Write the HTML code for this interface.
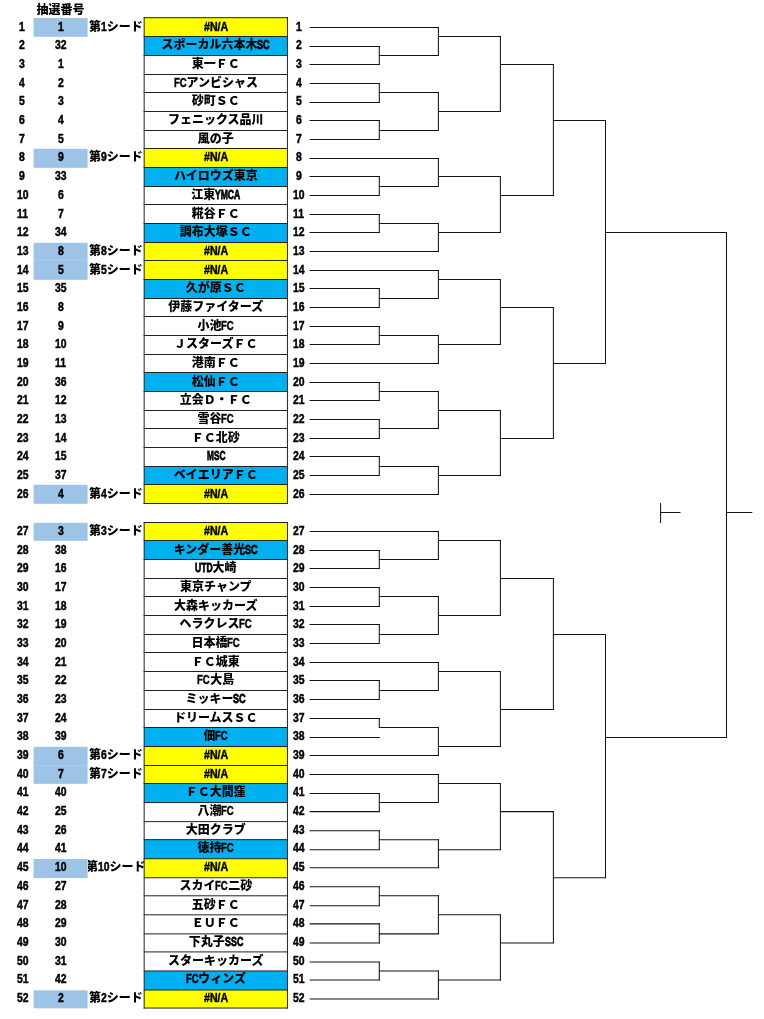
<!DOCTYPE html>
<html lang="ja"><head><meta charset="utf-8"><title>トーナメント表</title>
<style>
html,body{margin:0;padding:0;background:#fff}
body{width:764px;height:1019px;position:relative;overflow:hidden;font-family:"Liberation Sans","Noto Sans CJK JP",sans-serif;font-weight:900;font-size:12px;color:#000}
.c{position:absolute;height:18.67px;line-height:18.67px;text-align:center;white-space:nowrap;overflow:hidden}
.a{left:7.300000000000001px;width:30px}
.b{left:33.6px;width:54.0px}
.s{left:87.6px;width:56.4px}
.s>span.w{position:absolute;left:-30px;right:-30px;top:0;text-align:center}
.t{left:144.17px;width:143.3px}
.n{left:286.8px;width:24px}
.o{display:inline-block;white-space:nowrap;text-align:left;font-size:13px}
.i{display:inline-block;transform-origin:0 50%;white-space:nowrap;-webkit-text-stroke:0.5px #000}
.l{transform:scaleX(0.73)}
.d{transform:scaleX(0.8)}
.q{transform:scaleX(0.81)}
</style></head><body>
<svg width="764" height="1019" viewBox="0 0 764 1019" style="position:absolute;left:0;top:0">
<rect x="33.6" y="18.00" width="54.0" height="18.80" fill="#9dc3e6"/>
<rect x="33.6" y="148.80" width="54.0" height="19.00" fill="#9dc3e6"/>
<rect x="33.6" y="242.80" width="54.0" height="18.00" fill="#9dc3e6"/>
<rect x="33.6" y="260.80" width="54.0" height="19.00" fill="#9dc3e6"/>
<rect x="33.6" y="484.80" width="54.0" height="19.00" fill="#9dc3e6"/>
<rect x="33.6" y="522.80" width="54.0" height="18.00" fill="#9dc3e6"/>
<rect x="33.6" y="746.80" width="54.0" height="19.00" fill="#9dc3e6"/>
<rect x="33.6" y="765.80" width="54.0" height="18.04" fill="#9dc3e6"/>
<rect x="33.6" y="859.01" width="54.0" height="19.04" fill="#9dc3e6"/>
<rect x="33.6" y="990.31" width="54.0" height="18.04" fill="#9dc3e6"/>
<!--CELLS-->
<rect x="144.17" y="17.70" width="143.28" height="18.80" fill="#ffff00"/>
<rect x="144.17" y="36.50" width="143.28" height="19.00" fill="#00b0f0"/>
<rect x="144.17" y="148.50" width="143.28" height="19.00" fill="#ffff00"/>
<rect x="144.17" y="167.50" width="143.28" height="19.00" fill="#00b0f0"/>
<rect x="144.17" y="223.50" width="143.28" height="19.00" fill="#00b0f0"/>
<rect x="144.17" y="242.50" width="143.28" height="18.00" fill="#ffff00"/>
<rect x="144.17" y="260.50" width="143.28" height="19.00" fill="#ffff00"/>
<rect x="144.17" y="279.50" width="143.28" height="19.00" fill="#00b0f0"/>
<rect x="144.17" y="372.50" width="143.28" height="19.00" fill="#00b0f0"/>
<rect x="144.17" y="466.50" width="143.28" height="18.00" fill="#00b0f0"/>
<rect x="144.17" y="484.50" width="143.28" height="19.00" fill="#ffff00"/>
<rect x="144.17" y="522.50" width="143.28" height="18.00" fill="#ffff00"/>
<rect x="144.17" y="540.50" width="143.28" height="19.00" fill="#00b0f0"/>
<rect x="144.17" y="727.50" width="143.28" height="19.00" fill="#00b0f0"/>
<rect x="144.17" y="746.50" width="143.28" height="19.00" fill="#ffff00"/>
<rect x="144.17" y="765.50" width="143.28" height="18.04" fill="#ffff00"/>
<rect x="144.17" y="783.54" width="143.28" height="19.04" fill="#00b0f0"/>
<rect x="144.17" y="839.67" width="143.28" height="19.04" fill="#00b0f0"/>
<rect x="144.17" y="858.71" width="143.28" height="19.04" fill="#ffff00"/>
<rect x="144.17" y="970.97" width="143.28" height="19.04" fill="#00b0f0"/>
<rect x="144.17" y="990.01" width="143.28" height="18.04" fill="#ffff00"/>
<g stroke="#222" stroke-width="1" fill="none">
<line x1="143.67" x2="287.95" y1="17.70" y2="17.70"/>
<line x1="143.67" x2="287.95" y1="36.50" y2="36.50"/>
<line x1="143.67" x2="287.95" y1="55.50" y2="55.50"/>
<line x1="143.67" x2="287.95" y1="74.50" y2="74.50"/>
<line x1="143.67" x2="287.95" y1="92.50" y2="92.50"/>
<line x1="143.67" x2="287.95" y1="111.50" y2="111.50"/>
<line x1="143.67" x2="287.95" y1="130.50" y2="130.50"/>
<line x1="143.67" x2="287.95" y1="148.50" y2="148.50"/>
<line x1="143.67" x2="287.95" y1="167.50" y2="167.50"/>
<line x1="143.67" x2="287.95" y1="186.50" y2="186.50"/>
<line x1="143.67" x2="287.95" y1="204.50" y2="204.50"/>
<line x1="143.67" x2="287.95" y1="223.50" y2="223.50"/>
<line x1="143.67" x2="287.95" y1="242.50" y2="242.50"/>
<line x1="143.67" x2="287.95" y1="260.50" y2="260.50"/>
<line x1="143.67" x2="287.95" y1="279.50" y2="279.50"/>
<line x1="143.67" x2="287.95" y1="298.50" y2="298.50"/>
<line x1="143.67" x2="287.95" y1="316.50" y2="316.50"/>
<line x1="143.67" x2="287.95" y1="335.50" y2="335.50"/>
<line x1="143.67" x2="287.95" y1="354.50" y2="354.50"/>
<line x1="143.67" x2="287.95" y1="372.50" y2="372.50"/>
<line x1="143.67" x2="287.95" y1="391.50" y2="391.50"/>
<line x1="143.67" x2="287.95" y1="410.50" y2="410.50"/>
<line x1="143.67" x2="287.95" y1="428.50" y2="428.50"/>
<line x1="143.67" x2="287.95" y1="447.50" y2="447.50"/>
<line x1="143.67" x2="287.95" y1="466.50" y2="466.50"/>
<line x1="143.67" x2="287.95" y1="484.50" y2="484.50"/>
<line x1="143.67" x2="287.95" y1="503.50" y2="503.50"/>
<line x1="144.17" x2="144.17" y1="17.20" y2="504.00"/>
<line x1="287.45" x2="287.45" y1="17.20" y2="504.00"/>
<line x1="143.67" x2="287.95" y1="522.50" y2="522.50"/>
<line x1="143.67" x2="287.95" y1="540.50" y2="540.50"/>
<line x1="143.67" x2="287.95" y1="559.50" y2="559.50"/>
<line x1="143.67" x2="287.95" y1="578.50" y2="578.50"/>
<line x1="143.67" x2="287.95" y1="596.50" y2="596.50"/>
<line x1="143.67" x2="287.95" y1="615.50" y2="615.50"/>
<line x1="143.67" x2="287.95" y1="634.50" y2="634.50"/>
<line x1="143.67" x2="287.95" y1="652.50" y2="652.50"/>
<line x1="143.67" x2="287.95" y1="671.50" y2="671.50"/>
<line x1="143.67" x2="287.95" y1="690.50" y2="690.50"/>
<line x1="143.67" x2="287.95" y1="709.50" y2="709.50"/>
<line x1="143.67" x2="287.95" y1="727.50" y2="727.50"/>
<line x1="143.67" x2="287.95" y1="746.50" y2="746.50"/>
<line x1="143.67" x2="287.95" y1="765.50" y2="765.50"/>
<line x1="143.67" x2="287.95" y1="783.54" y2="783.54"/>
<line x1="143.67" x2="287.95" y1="802.58" y2="802.58"/>
<line x1="143.67" x2="287.95" y1="821.63" y2="821.63"/>
<line x1="143.67" x2="287.95" y1="839.67" y2="839.67"/>
<line x1="143.67" x2="287.95" y1="858.71" y2="858.71"/>
<line x1="143.67" x2="287.95" y1="877.75" y2="877.75"/>
<line x1="143.67" x2="287.95" y1="895.80" y2="895.80"/>
<line x1="143.67" x2="287.95" y1="914.84" y2="914.84"/>
<line x1="143.67" x2="287.95" y1="933.88" y2="933.88"/>
<line x1="143.67" x2="287.95" y1="951.92" y2="951.92"/>
<line x1="143.67" x2="287.95" y1="970.97" y2="970.97"/>
<line x1="143.67" x2="287.95" y1="990.01" y2="990.01"/>
<line x1="143.67" x2="287.95" y1="1008.05" y2="1008.05"/>
<line x1="144.17" x2="144.17" y1="522.00" y2="1008.55"/>
<line x1="287.45" x2="287.45" y1="522.00" y2="1008.55"/>
</g>
<g stroke="#141414" stroke-width="1.05" fill="none">
<line x1="309.6" x2="438.9" y1="27.50" y2="27.50"/>
<line x1="309.6" x2="379.8" y1="46.50" y2="46.50"/>
<line x1="309.6" x2="379.8" y1="64.50" y2="64.50"/>
<line x1="378.8" x2="438.9" y1="55.50" y2="55.50"/>
<line x1="437.9" x2="500.9" y1="36.50" y2="36.50"/>
<line x1="309.6" x2="379.8" y1="83.50" y2="83.50"/>
<line x1="309.6" x2="379.8" y1="102.50" y2="102.50"/>
<line x1="378.8" x2="438.9" y1="92.50" y2="92.50"/>
<line x1="309.6" x2="379.8" y1="120.50" y2="120.50"/>
<line x1="309.6" x2="379.8" y1="139.50" y2="139.50"/>
<line x1="378.8" x2="438.9" y1="130.50" y2="130.50"/>
<line x1="437.9" x2="500.9" y1="111.50" y2="111.50"/>
<line x1="499.9" x2="553.9" y1="64.50" y2="64.50"/>
<line x1="309.6" x2="438.9" y1="158.50" y2="158.50"/>
<line x1="309.6" x2="379.8" y1="176.50" y2="176.50"/>
<line x1="309.6" x2="379.8" y1="195.50" y2="195.50"/>
<line x1="378.8" x2="438.9" y1="186.50" y2="186.50"/>
<line x1="437.9" x2="500.9" y1="176.50" y2="176.50"/>
<line x1="309.6" x2="379.8" y1="214.50" y2="214.50"/>
<line x1="309.6" x2="379.8" y1="232.50" y2="232.50"/>
<line x1="378.8" x2="438.9" y1="223.50" y2="223.50"/>
<line x1="309.6" x2="438.9" y1="251.50" y2="251.50"/>
<line x1="437.9" x2="500.9" y1="232.50" y2="232.50"/>
<line x1="499.9" x2="553.9" y1="195.50" y2="195.50"/>
<line x1="552.9" x2="606.0" y1="120.50" y2="120.50"/>
<line x1="309.6" x2="438.9" y1="270.50" y2="270.50"/>
<line x1="309.6" x2="379.8" y1="288.50" y2="288.50"/>
<line x1="309.6" x2="379.8" y1="307.50" y2="307.50"/>
<line x1="378.8" x2="438.9" y1="298.50" y2="298.50"/>
<line x1="437.9" x2="500.9" y1="279.50" y2="279.50"/>
<line x1="309.6" x2="379.8" y1="326.50" y2="326.50"/>
<line x1="309.6" x2="379.8" y1="344.50" y2="344.50"/>
<line x1="378.8" x2="438.9" y1="335.50" y2="335.50"/>
<line x1="309.6" x2="438.9" y1="363.50" y2="363.50"/>
<line x1="437.9" x2="500.9" y1="344.50" y2="344.50"/>
<line x1="499.9" x2="553.9" y1="307.50" y2="307.50"/>
<line x1="309.6" x2="379.8" y1="382.50" y2="382.50"/>
<line x1="309.6" x2="379.8" y1="400.50" y2="400.50"/>
<line x1="378.8" x2="438.9" y1="391.50" y2="391.50"/>
<line x1="309.6" x2="379.8" y1="419.50" y2="419.50"/>
<line x1="309.6" x2="379.8" y1="438.50" y2="438.50"/>
<line x1="378.8" x2="438.9" y1="428.50" y2="428.50"/>
<line x1="437.9" x2="500.9" y1="410.50" y2="410.50"/>
<line x1="309.6" x2="379.8" y1="456.50" y2="456.50"/>
<line x1="309.6" x2="379.8" y1="475.50" y2="475.50"/>
<line x1="378.8" x2="438.9" y1="466.50" y2="466.50"/>
<line x1="309.6" x2="438.9" y1="494.50" y2="494.50"/>
<line x1="437.9" x2="500.9" y1="475.50" y2="475.50"/>
<line x1="499.9" x2="553.9" y1="438.50" y2="438.50"/>
<line x1="552.9" x2="606.0" y1="363.50" y2="363.50"/>
<line x1="605.0" x2="727.0" y1="232.50" y2="232.50"/>
<line x1="309.6" x2="438.9" y1="531.50" y2="531.50"/>
<line x1="309.6" x2="379.8" y1="550.50" y2="550.50"/>
<line x1="309.6" x2="379.8" y1="568.50" y2="568.50"/>
<line x1="378.8" x2="438.9" y1="559.50" y2="559.50"/>
<line x1="437.9" x2="500.9" y1="540.50" y2="540.50"/>
<line x1="309.6" x2="379.8" y1="587.50" y2="587.50"/>
<line x1="309.6" x2="379.8" y1="606.50" y2="606.50"/>
<line x1="378.8" x2="438.9" y1="596.50" y2="596.50"/>
<line x1="309.6" x2="379.8" y1="624.50" y2="624.50"/>
<line x1="309.6" x2="379.8" y1="643.50" y2="643.50"/>
<line x1="378.8" x2="438.9" y1="634.50" y2="634.50"/>
<line x1="437.9" x2="500.9" y1="615.50" y2="615.50"/>
<line x1="499.9" x2="553.9" y1="578.50" y2="578.50"/>
<line x1="309.6" x2="438.9" y1="662.50" y2="662.50"/>
<line x1="309.6" x2="379.8" y1="680.50" y2="680.50"/>
<line x1="309.6" x2="379.8" y1="699.50" y2="699.50"/>
<line x1="378.8" x2="438.9" y1="690.50" y2="690.50"/>
<line x1="437.9" x2="500.9" y1="671.50" y2="671.50"/>
<line x1="309.6" x2="379.8" y1="718.50" y2="718.50"/>
<line x1="309.6" x2="379.8" y1="737.50" y2="737.50"/>
<line x1="378.8" x2="438.9" y1="727.50" y2="727.50"/>
<line x1="309.6" x2="438.9" y1="755.50" y2="755.50"/>
<line x1="437.9" x2="500.9" y1="746.50" y2="746.50"/>
<line x1="499.9" x2="553.9" y1="709.50" y2="709.50"/>
<line x1="552.9" x2="606.0" y1="634.50" y2="634.50"/>
<line x1="309.6" x2="438.9" y1="774.52" y2="774.52"/>
<line x1="309.6" x2="379.8" y1="793.56" y2="793.56"/>
<line x1="309.6" x2="379.8" y1="811.61" y2="811.61"/>
<line x1="378.8" x2="438.9" y1="802.58" y2="802.58"/>
<line x1="437.9" x2="500.9" y1="783.54" y2="783.54"/>
<line x1="309.6" x2="379.8" y1="830.65" y2="830.65"/>
<line x1="309.6" x2="379.8" y1="849.69" y2="849.69"/>
<line x1="378.8" x2="438.9" y1="839.67" y2="839.67"/>
<line x1="309.6" x2="438.9" y1="867.73" y2="867.73"/>
<line x1="437.9" x2="500.9" y1="849.69" y2="849.69"/>
<line x1="499.9" x2="553.9" y1="811.61" y2="811.61"/>
<line x1="309.6" x2="379.8" y1="886.77" y2="886.77"/>
<line x1="309.6" x2="379.8" y1="905.82" y2="905.82"/>
<line x1="378.8" x2="438.9" y1="895.80" y2="895.80"/>
<line x1="309.6" x2="379.8" y1="923.86" y2="923.86"/>
<line x1="309.6" x2="379.8" y1="942.90" y2="942.90"/>
<line x1="378.8" x2="438.9" y1="933.88" y2="933.88"/>
<line x1="437.9" x2="500.9" y1="914.84" y2="914.84"/>
<line x1="309.6" x2="379.8" y1="961.94" y2="961.94"/>
<line x1="309.6" x2="379.8" y1="979.99" y2="979.99"/>
<line x1="378.8" x2="438.9" y1="970.97" y2="970.97"/>
<line x1="309.6" x2="438.9" y1="999.03" y2="999.03"/>
<line x1="437.9" x2="500.9" y1="979.99" y2="979.99"/>
<line x1="499.9" x2="553.9" y1="942.90" y2="942.90"/>
<line x1="552.9" x2="606.0" y1="877.75" y2="877.75"/>
<line x1="605.0" x2="727.0" y1="737.50" y2="737.50"/>
<line x1="726.0" x2="752.3" y1="512.50" y2="512.50"/>
<line x1="660.1" x2="680.5" y1="512.50" y2="512.50"/>
<line x1="379.3" x2="379.3" y1="46.00" y2="64.90"/>
<line x1="438.4" x2="438.4" y1="27.00" y2="55.90"/>
<line x1="379.3" x2="379.3" y1="83.00" y2="102.90"/>
<line x1="379.3" x2="379.3" y1="120.00" y2="139.90"/>
<line x1="438.4" x2="438.4" y1="92.00" y2="130.90"/>
<line x1="500.4" x2="500.4" y1="36.00" y2="111.90"/>
<line x1="379.3" x2="379.3" y1="176.00" y2="195.90"/>
<line x1="438.4" x2="438.4" y1="158.00" y2="186.90"/>
<line x1="379.3" x2="379.3" y1="214.00" y2="232.90"/>
<line x1="438.4" x2="438.4" y1="223.00" y2="251.90"/>
<line x1="500.4" x2="500.4" y1="176.00" y2="232.90"/>
<line x1="553.4" x2="553.4" y1="64.00" y2="195.90"/>
<line x1="379.3" x2="379.3" y1="288.00" y2="307.90"/>
<line x1="438.4" x2="438.4" y1="270.00" y2="298.90"/>
<line x1="379.3" x2="379.3" y1="326.00" y2="344.90"/>
<line x1="438.4" x2="438.4" y1="335.00" y2="363.90"/>
<line x1="500.4" x2="500.4" y1="279.00" y2="344.90"/>
<line x1="379.3" x2="379.3" y1="382.00" y2="400.90"/>
<line x1="379.3" x2="379.3" y1="419.00" y2="438.90"/>
<line x1="438.4" x2="438.4" y1="391.00" y2="428.90"/>
<line x1="379.3" x2="379.3" y1="456.00" y2="475.90"/>
<line x1="438.4" x2="438.4" y1="466.00" y2="494.90"/>
<line x1="500.4" x2="500.4" y1="410.00" y2="475.90"/>
<line x1="553.4" x2="553.4" y1="307.00" y2="438.90"/>
<line x1="605.5" x2="605.5" y1="120.00" y2="363.90"/>
<line x1="379.3" x2="379.3" y1="550.00" y2="568.90"/>
<line x1="438.4" x2="438.4" y1="531.00" y2="559.90"/>
<line x1="379.3" x2="379.3" y1="587.00" y2="606.90"/>
<line x1="379.3" x2="379.3" y1="624.00" y2="643.90"/>
<line x1="438.4" x2="438.4" y1="596.00" y2="634.90"/>
<line x1="500.4" x2="500.4" y1="540.00" y2="615.90"/>
<line x1="379.3" x2="379.3" y1="680.00" y2="699.90"/>
<line x1="438.4" x2="438.4" y1="662.00" y2="690.90"/>
<line x1="379.3" x2="379.3" y1="718.00" y2="727.90"/>
<line x1="438.4" x2="438.4" y1="727.00" y2="755.90"/>
<line x1="500.4" x2="500.4" y1="671.00" y2="746.90"/>
<line x1="553.4" x2="553.4" y1="578.00" y2="709.90"/>
<line x1="379.3" x2="379.3" y1="793.06" y2="812.01"/>
<line x1="438.4" x2="438.4" y1="774.02" y2="802.98"/>
<line x1="379.3" x2="379.3" y1="830.15" y2="850.09"/>
<line x1="438.4" x2="438.4" y1="839.17" y2="868.13"/>
<line x1="500.4" x2="500.4" y1="783.04" y2="850.09"/>
<line x1="379.3" x2="379.3" y1="886.27" y2="906.22"/>
<line x1="379.3" x2="379.3" y1="923.36" y2="943.30"/>
<line x1="438.4" x2="438.4" y1="895.30" y2="934.28"/>
<line x1="379.3" x2="379.3" y1="961.44" y2="980.39"/>
<line x1="438.4" x2="438.4" y1="970.47" y2="999.43"/>
<line x1="500.4" x2="500.4" y1="914.34" y2="980.39"/>
<line x1="553.4" x2="553.4" y1="811.11" y2="943.30"/>
<line x1="605.5" x2="605.5" y1="634.00" y2="878.15"/>
<line x1="726.5" x2="726.5" y1="232.00" y2="737.90"/>
<line x1="660.6" x2="660.6" y1="503.00" y2="522.90"/>
</g>
</svg>
<div class="c b" style="top:1.47px">抽選番号</div>
<div class="c a" style="top:17.75px"><span class="o" style="width:5.79px"><span class="i d">1</span></span></div><div class="c b" style="top:17.75px"><span class="o" style="width:5.79px"><span class="i d">1</span></span></div><div class="c s" style="top:17.75px"><span class="w">第<span class="o" style="width:5.79px"><span class="i d">1</span></span>シード</span></div><div class="c t" style="top:17.75px"><span class="o" style="width:24.20px"><span class="i" style="transform:scaleX(0.817)">#N/A</span></span></div><div class="c n" style="top:17.75px"><span class="o" style="width:5.79px"><span class="i d">1</span></span></div>
<div class="c a" style="top:36.43px"><span class="o" style="width:5.79px"><span class="i d">2</span></span></div><div class="c b" style="top:36.43px"><span class="o" style="width:11.58px"><span class="i d">32</span></span></div><div class="c t" style="top:36.43px">スポーカル六本木<span class="o" style="width:12.70px"><span class="i" style="transform:scaleX(0.703);-webkit-text-stroke-width:0.8px">SC</span></span></div><div class="c n" style="top:36.43px"><span class="o" style="width:5.79px"><span class="i d">2</span></span></div>
<div class="c a" style="top:55.10px"><span class="o" style="width:5.79px"><span class="i d">3</span></span></div><div class="c b" style="top:55.10px"><span class="o" style="width:5.79px"><span class="i d">1</span></span></div><div class="c t" style="top:55.10px">東一ＦＣ</div><div class="c n" style="top:55.10px"><span class="o" style="width:5.79px"><span class="i d">3</span></span></div>
<div class="c a" style="top:73.78px"><span class="o" style="width:5.79px"><span class="i d">4</span></span></div><div class="c b" style="top:73.78px"><span class="o" style="width:5.79px"><span class="i d">2</span></span></div><div class="c t" style="top:73.78px"><span class="o" style="width:12.70px"><span class="i" style="transform:scaleX(0.732)">FC</span></span>アンビシャス</div><div class="c n" style="top:73.78px"><span class="o" style="width:5.79px"><span class="i d">4</span></span></div>
<div class="c a" style="top:92.45px"><span class="o" style="width:5.79px"><span class="i d">5</span></span></div><div class="c b" style="top:92.45px"><span class="o" style="width:5.79px"><span class="i d">3</span></span></div><div class="c t" style="top:92.45px">砂町ＳＣ</div><div class="c n" style="top:92.45px"><span class="o" style="width:5.79px"><span class="i d">5</span></span></div>
<div class="c a" style="top:111.13px"><span class="o" style="width:5.79px"><span class="i d">6</span></span></div><div class="c b" style="top:111.13px"><span class="o" style="width:5.79px"><span class="i d">4</span></span></div><div class="c t" style="top:111.13px">フェニックス品川</div><div class="c n" style="top:111.13px"><span class="o" style="width:5.79px"><span class="i d">6</span></span></div>
<div class="c a" style="top:129.81px"><span class="o" style="width:5.79px"><span class="i d">7</span></span></div><div class="c b" style="top:129.81px"><span class="o" style="width:5.79px"><span class="i d">5</span></span></div><div class="c t" style="top:129.81px">風の子</div><div class="c n" style="top:129.81px"><span class="o" style="width:5.79px"><span class="i d">7</span></span></div>
<div class="c a" style="top:148.48px"><span class="o" style="width:5.79px"><span class="i d">8</span></span></div><div class="c b" style="top:148.48px"><span class="o" style="width:5.79px"><span class="i d">9</span></span></div><div class="c s" style="top:148.48px"><span class="w">第<span class="o" style="width:5.79px"><span class="i d">9</span></span>シード</span></div><div class="c t" style="top:148.48px"><span class="o" style="width:24.20px"><span class="i" style="transform:scaleX(0.817)">#N/A</span></span></div><div class="c n" style="top:148.48px"><span class="o" style="width:5.79px"><span class="i d">8</span></span></div>
<div class="c a" style="top:167.16px"><span class="o" style="width:5.79px"><span class="i d">9</span></span></div><div class="c b" style="top:167.16px"><span class="o" style="width:11.58px"><span class="i d">33</span></span></div><div class="c t" style="top:167.16px">ハイロウズ東京</div><div class="c n" style="top:167.16px"><span class="o" style="width:5.79px"><span class="i d">9</span></span></div>
<div class="c a" style="top:185.83px"><span class="o" style="width:11.58px"><span class="i d">10</span></span></div><div class="c b" style="top:185.83px"><span class="o" style="width:5.79px"><span class="i d">6</span></span></div><div class="c t" style="top:185.83px">江東<span class="o" style="width:25.20px"><span class="i" style="transform:scaleX(0.658);-webkit-text-stroke-width:0.8px">YMCA</span></span></div><div class="c n" style="top:185.83px"><span class="o" style="width:11.58px"><span class="i d">10</span></span></div>
<div class="c a" style="top:204.51px"><span class="o" style="width:11.00px"><span class="i d">11</span></span></div><div class="c b" style="top:204.51px"><span class="o" style="width:5.79px"><span class="i d">7</span></span></div><div class="c t" style="top:204.51px">糀谷ＦＣ</div><div class="c n" style="top:204.51px"><span class="o" style="width:11.00px"><span class="i d">11</span></span></div>
<div class="c a" style="top:223.19px"><span class="o" style="width:11.58px"><span class="i d">12</span></span></div><div class="c b" style="top:223.19px"><span class="o" style="width:11.58px"><span class="i d">34</span></span></div><div class="c t" style="top:223.19px">調布大塚ＳＣ</div><div class="c n" style="top:223.19px"><span class="o" style="width:11.58px"><span class="i d">12</span></span></div>
<div class="c a" style="top:241.86px"><span class="o" style="width:11.58px"><span class="i d">13</span></span></div><div class="c b" style="top:241.86px"><span class="o" style="width:5.79px"><span class="i d">8</span></span></div><div class="c s" style="top:241.86px"><span class="w">第<span class="o" style="width:5.79px"><span class="i d">8</span></span>シード</span></div><div class="c t" style="top:241.86px"><span class="o" style="width:24.20px"><span class="i" style="transform:scaleX(0.817)">#N/A</span></span></div><div class="c n" style="top:241.86px"><span class="o" style="width:11.58px"><span class="i d">13</span></span></div>
<div class="c a" style="top:260.54px"><span class="o" style="width:11.58px"><span class="i d">14</span></span></div><div class="c b" style="top:260.54px"><span class="o" style="width:5.79px"><span class="i d">5</span></span></div><div class="c s" style="top:260.54px"><span class="w">第<span class="o" style="width:5.79px"><span class="i d">5</span></span>シード</span></div><div class="c t" style="top:260.54px"><span class="o" style="width:24.20px"><span class="i" style="transform:scaleX(0.817)">#N/A</span></span></div><div class="c n" style="top:260.54px"><span class="o" style="width:11.58px"><span class="i d">14</span></span></div>
<div class="c a" style="top:279.21px"><span class="o" style="width:11.58px"><span class="i d">15</span></span></div><div class="c b" style="top:279.21px"><span class="o" style="width:11.58px"><span class="i d">35</span></span></div><div class="c t" style="top:279.21px">久が原ＳＣ</div><div class="c n" style="top:279.21px"><span class="o" style="width:11.58px"><span class="i d">15</span></span></div>
<div class="c a" style="top:297.89px"><span class="o" style="width:11.58px"><span class="i d">16</span></span></div><div class="c b" style="top:297.89px"><span class="o" style="width:5.79px"><span class="i d">8</span></span></div><div class="c t" style="top:297.89px">伊藤ファイターズ</div><div class="c n" style="top:297.89px"><span class="o" style="width:11.58px"><span class="i d">16</span></span></div>
<div class="c a" style="top:316.57px"><span class="o" style="width:11.58px"><span class="i d">17</span></span></div><div class="c b" style="top:316.57px"><span class="o" style="width:5.79px"><span class="i d">9</span></span></div><div class="c t" style="top:316.57px">小池<span class="o" style="width:12.70px"><span class="i" style="transform:scaleX(0.732)">FC</span></span></div><div class="c n" style="top:316.57px"><span class="o" style="width:11.58px"><span class="i d">17</span></span></div>
<div class="c a" style="top:335.24px"><span class="o" style="width:11.58px"><span class="i d">18</span></span></div><div class="c b" style="top:335.24px"><span class="o" style="width:11.58px"><span class="i d">10</span></span></div><div class="c t" style="top:335.24px">ＪスターズＦＣ</div><div class="c n" style="top:335.24px"><span class="o" style="width:11.58px"><span class="i d">18</span></span></div>
<div class="c a" style="top:353.92px"><span class="o" style="width:11.58px"><span class="i d">19</span></span></div><div class="c b" style="top:353.92px"><span class="o" style="width:11.00px"><span class="i d">11</span></span></div><div class="c t" style="top:353.92px">港南ＦＣ</div><div class="c n" style="top:353.92px"><span class="o" style="width:11.58px"><span class="i d">19</span></span></div>
<div class="c a" style="top:372.59px"><span class="o" style="width:11.58px"><span class="i d">20</span></span></div><div class="c b" style="top:372.59px"><span class="o" style="width:11.58px"><span class="i d">36</span></span></div><div class="c t" style="top:372.59px">松仙ＦＣ</div><div class="c n" style="top:372.59px"><span class="o" style="width:11.58px"><span class="i d">20</span></span></div>
<div class="c a" style="top:391.27px"><span class="o" style="width:11.58px"><span class="i d">21</span></span></div><div class="c b" style="top:391.27px"><span class="o" style="width:11.58px"><span class="i d">12</span></span></div><div class="c t" style="top:391.27px">立会Ｄ・ＦＣ</div><div class="c n" style="top:391.27px"><span class="o" style="width:11.58px"><span class="i d">21</span></span></div>
<div class="c a" style="top:409.95px"><span class="o" style="width:11.58px"><span class="i d">22</span></span></div><div class="c b" style="top:409.95px"><span class="o" style="width:11.58px"><span class="i d">13</span></span></div><div class="c t" style="top:409.95px">雪谷<span class="o" style="width:12.70px"><span class="i" style="transform:scaleX(0.732)">FC</span></span></div><div class="c n" style="top:409.95px"><span class="o" style="width:11.58px"><span class="i d">22</span></span></div>
<div class="c a" style="top:428.62px"><span class="o" style="width:11.58px"><span class="i d">23</span></span></div><div class="c b" style="top:428.62px"><span class="o" style="width:11.58px"><span class="i d">14</span></span></div><div class="c t" style="top:428.62px">ＦＣ北砂</div><div class="c n" style="top:428.62px"><span class="o" style="width:11.58px"><span class="i d">23</span></span></div>
<div class="c a" style="top:447.30px"><span class="o" style="width:11.58px"><span class="i d">24</span></span></div><div class="c b" style="top:447.30px"><span class="o" style="width:11.58px"><span class="i d">15</span></span></div><div class="c t" style="top:447.30px"><span class="o" style="width:18.40px"><span class="i" style="transform:scaleX(0.637);-webkit-text-stroke-width:0.8px">MSC</span></span></div><div class="c n" style="top:447.30px"><span class="o" style="width:11.58px"><span class="i d">24</span></span></div>
<div class="c a" style="top:465.97px"><span class="o" style="width:11.58px"><span class="i d">25</span></span></div><div class="c b" style="top:465.97px"><span class="o" style="width:11.58px"><span class="i d">37</span></span></div><div class="c t" style="top:465.97px">ベイエリアＦＣ</div><div class="c n" style="top:465.97px"><span class="o" style="width:11.58px"><span class="i d">25</span></span></div>
<div class="c a" style="top:484.65px"><span class="o" style="width:11.58px"><span class="i d">26</span></span></div><div class="c b" style="top:484.65px"><span class="o" style="width:5.79px"><span class="i d">4</span></span></div><div class="c s" style="top:484.65px"><span class="w">第<span class="o" style="width:5.79px"><span class="i d">4</span></span>シード</span></div><div class="c t" style="top:484.65px"><span class="o" style="width:24.20px"><span class="i" style="transform:scaleX(0.817)">#N/A</span></span></div><div class="c n" style="top:484.65px"><span class="o" style="width:11.58px"><span class="i d">26</span></span></div>
<div class="c a" style="top:522.00px"><span class="o" style="width:11.58px"><span class="i d">27</span></span></div><div class="c b" style="top:522.00px"><span class="o" style="width:5.79px"><span class="i d">3</span></span></div><div class="c s" style="top:522.00px"><span class="w">第<span class="o" style="width:5.79px"><span class="i d">3</span></span>シード</span></div><div class="c t" style="top:522.00px"><span class="o" style="width:24.20px"><span class="i" style="transform:scaleX(0.817)">#N/A</span></span></div><div class="c n" style="top:522.00px"><span class="o" style="width:11.58px"><span class="i d">27</span></span></div>
<div class="c a" style="top:540.68px"><span class="o" style="width:11.58px"><span class="i d">28</span></span></div><div class="c b" style="top:540.68px"><span class="o" style="width:11.58px"><span class="i d">38</span></span></div><div class="c t" style="top:540.68px">キンダー善光<span class="o" style="width:12.70px"><span class="i" style="transform:scaleX(0.703);-webkit-text-stroke-width:0.8px">SC</span></span></div><div class="c n" style="top:540.68px"><span class="o" style="width:11.58px"><span class="i d">28</span></span></div>
<div class="c a" style="top:559.35px"><span class="o" style="width:11.58px"><span class="i d">29</span></span></div><div class="c b" style="top:559.35px"><span class="o" style="width:11.58px"><span class="i d">16</span></span></div><div class="c t" style="top:559.35px"><span class="o" style="width:17.60px"><span class="i" style="transform:scaleX(0.659);-webkit-text-stroke-width:0.8px">UTD</span></span>大崎</div><div class="c n" style="top:559.35px"><span class="o" style="width:11.58px"><span class="i d">29</span></span></div>
<div class="c a" style="top:578.03px"><span class="o" style="width:11.58px"><span class="i d">30</span></span></div><div class="c b" style="top:578.03px"><span class="o" style="width:11.58px"><span class="i d">17</span></span></div><div class="c t" style="top:578.03px">東京チャンプ</div><div class="c n" style="top:578.03px"><span class="o" style="width:11.58px"><span class="i d">30</span></span></div>
<div class="c a" style="top:596.71px"><span class="o" style="width:11.58px"><span class="i d">31</span></span></div><div class="c b" style="top:596.71px"><span class="o" style="width:11.58px"><span class="i d">18</span></span></div><div class="c t" style="top:596.71px">大森キッカーズ</div><div class="c n" style="top:596.71px"><span class="o" style="width:11.58px"><span class="i d">31</span></span></div>
<div class="c a" style="top:615.38px"><span class="o" style="width:11.58px"><span class="i d">32</span></span></div><div class="c b" style="top:615.38px"><span class="o" style="width:11.58px"><span class="i d">19</span></span></div><div class="c t" style="top:615.38px">ヘラクレス<span class="o" style="width:12.70px"><span class="i" style="transform:scaleX(0.732)">FC</span></span></div><div class="c n" style="top:615.38px"><span class="o" style="width:11.58px"><span class="i d">32</span></span></div>
<div class="c a" style="top:634.06px"><span class="o" style="width:11.58px"><span class="i d">33</span></span></div><div class="c b" style="top:634.06px"><span class="o" style="width:11.58px"><span class="i d">20</span></span></div><div class="c t" style="top:634.06px">日本橋<span class="o" style="width:12.70px"><span class="i" style="transform:scaleX(0.732)">FC</span></span></div><div class="c n" style="top:634.06px"><span class="o" style="width:11.58px"><span class="i d">33</span></span></div>
<div class="c a" style="top:652.73px"><span class="o" style="width:11.58px"><span class="i d">34</span></span></div><div class="c b" style="top:652.73px"><span class="o" style="width:11.58px"><span class="i d">21</span></span></div><div class="c t" style="top:652.73px">ＦＣ城東</div><div class="c n" style="top:652.73px"><span class="o" style="width:11.58px"><span class="i d">34</span></span></div>
<div class="c a" style="top:671.41px"><span class="o" style="width:11.58px"><span class="i d">35</span></span></div><div class="c b" style="top:671.41px"><span class="o" style="width:11.58px"><span class="i d">22</span></span></div><div class="c t" style="top:671.41px"><span class="o" style="width:12.70px"><span class="i" style="transform:scaleX(0.732)">FC</span></span>大島</div><div class="c n" style="top:671.41px"><span class="o" style="width:11.58px"><span class="i d">35</span></span></div>
<div class="c a" style="top:690.09px"><span class="o" style="width:11.58px"><span class="i d">36</span></span></div><div class="c b" style="top:690.09px"><span class="o" style="width:11.58px"><span class="i d">23</span></span></div><div class="c t" style="top:690.09px">ミッキー<span class="o" style="width:12.70px"><span class="i" style="transform:scaleX(0.703);-webkit-text-stroke-width:0.8px">SC</span></span></div><div class="c n" style="top:690.09px"><span class="o" style="width:11.58px"><span class="i d">36</span></span></div>
<div class="c a" style="top:708.76px"><span class="o" style="width:11.58px"><span class="i d">37</span></span></div><div class="c b" style="top:708.76px"><span class="o" style="width:11.58px"><span class="i d">24</span></span></div><div class="c t" style="top:708.76px">ドリームスＳＣ</div><div class="c n" style="top:708.76px"><span class="o" style="width:11.58px"><span class="i d">37</span></span></div>
<div class="c a" style="top:727.44px"><span class="o" style="width:11.58px"><span class="i d">38</span></span></div><div class="c b" style="top:727.44px"><span class="o" style="width:11.58px"><span class="i d">39</span></span></div><div class="c t" style="top:727.44px">佃<span class="o" style="width:12.70px"><span class="i" style="transform:scaleX(0.732)">FC</span></span></div><div class="c n" style="top:727.44px"><span class="o" style="width:11.58px"><span class="i d">38</span></span></div>
<div class="c a" style="top:746.11px"><span class="o" style="width:11.58px"><span class="i d">39</span></span></div><div class="c b" style="top:746.11px"><span class="o" style="width:5.79px"><span class="i d">6</span></span></div><div class="c s" style="top:746.11px"><span class="w">第<span class="o" style="width:5.79px"><span class="i d">6</span></span>シード</span></div><div class="c t" style="top:746.11px"><span class="o" style="width:24.20px"><span class="i" style="transform:scaleX(0.817)">#N/A</span></span></div><div class="c n" style="top:746.11px"><span class="o" style="width:11.58px"><span class="i d">39</span></span></div>
<div class="c a" style="top:764.79px"><span class="o" style="width:11.58px"><span class="i d">40</span></span></div><div class="c b" style="top:764.79px"><span class="o" style="width:5.79px"><span class="i d">7</span></span></div><div class="c s" style="top:764.79px"><span class="w">第<span class="o" style="width:5.79px"><span class="i d">7</span></span>シード</span></div><div class="c t" style="top:764.79px"><span class="o" style="width:24.20px"><span class="i" style="transform:scaleX(0.817)">#N/A</span></span></div><div class="c n" style="top:764.79px"><span class="o" style="width:11.58px"><span class="i d">40</span></span></div>
<div class="c a" style="top:783.47px"><span class="o" style="width:11.58px"><span class="i d">41</span></span></div><div class="c b" style="top:783.47px"><span class="o" style="width:11.58px"><span class="i d">40</span></span></div><div class="c t" style="top:783.47px">ＦＣ大間窪</div><div class="c n" style="top:783.47px"><span class="o" style="width:11.58px"><span class="i d">41</span></span></div>
<div class="c a" style="top:802.14px"><span class="o" style="width:11.58px"><span class="i d">42</span></span></div><div class="c b" style="top:802.14px"><span class="o" style="width:11.58px"><span class="i d">25</span></span></div><div class="c t" style="top:802.14px">八潮<span class="o" style="width:12.70px"><span class="i" style="transform:scaleX(0.732)">FC</span></span></div><div class="c n" style="top:802.14px"><span class="o" style="width:11.58px"><span class="i d">42</span></span></div>
<div class="c a" style="top:820.82px"><span class="o" style="width:11.58px"><span class="i d">43</span></span></div><div class="c b" style="top:820.82px"><span class="o" style="width:11.58px"><span class="i d">26</span></span></div><div class="c t" style="top:820.82px">大田クラブ</div><div class="c n" style="top:820.82px"><span class="o" style="width:11.58px"><span class="i d">43</span></span></div>
<div class="c a" style="top:839.49px"><span class="o" style="width:11.58px"><span class="i d">44</span></span></div><div class="c b" style="top:839.49px"><span class="o" style="width:11.58px"><span class="i d">41</span></span></div><div class="c t" style="top:839.49px">徳持<span class="o" style="width:12.70px"><span class="i" style="transform:scaleX(0.732)">FC</span></span></div><div class="c n" style="top:839.49px"><span class="o" style="width:11.58px"><span class="i d">44</span></span></div>
<div class="c a" style="top:858.17px"><span class="o" style="width:11.58px"><span class="i d">45</span></span></div><div class="c b" style="top:858.17px"><span class="o" style="width:11.58px"><span class="i d">10</span></span></div><div class="c s" style="top:858.17px"><span class="w">第<span class="o" style="width:11.58px"><span class="i d">10</span></span>シード</span></div><div class="c t" style="top:858.17px"><span class="o" style="width:24.20px"><span class="i" style="transform:scaleX(0.817)">#N/A</span></span></div><div class="c n" style="top:858.17px"><span class="o" style="width:11.58px"><span class="i d">45</span></span></div>
<div class="c a" style="top:876.85px"><span class="o" style="width:11.58px"><span class="i d">46</span></span></div><div class="c b" style="top:876.85px"><span class="o" style="width:11.58px"><span class="i d">27</span></span></div><div class="c t" style="top:876.85px">スカイ<span class="o" style="width:12.70px"><span class="i" style="transform:scaleX(0.732)">FC</span></span>二砂</div><div class="c n" style="top:876.85px"><span class="o" style="width:11.58px"><span class="i d">46</span></span></div>
<div class="c a" style="top:895.52px"><span class="o" style="width:11.58px"><span class="i d">47</span></span></div><div class="c b" style="top:895.52px"><span class="o" style="width:11.58px"><span class="i d">28</span></span></div><div class="c t" style="top:895.52px">五砂ＦＣ</div><div class="c n" style="top:895.52px"><span class="o" style="width:11.58px"><span class="i d">47</span></span></div>
<div class="c a" style="top:914.20px"><span class="o" style="width:11.58px"><span class="i d">48</span></span></div><div class="c b" style="top:914.20px"><span class="o" style="width:11.58px"><span class="i d">29</span></span></div><div class="c t" style="top:914.20px">ＥＵＦＣ</div><div class="c n" style="top:914.20px"><span class="o" style="width:11.58px"><span class="i d">48</span></span></div>
<div class="c a" style="top:932.87px"><span class="o" style="width:11.58px"><span class="i d">49</span></span></div><div class="c b" style="top:932.87px"><span class="o" style="width:11.58px"><span class="i d">30</span></span></div><div class="c t" style="top:932.87px">下丸子<span class="o" style="width:18.30px"><span class="i" style="transform:scaleX(0.685);-webkit-text-stroke-width:0.8px">SSC</span></span></div><div class="c n" style="top:932.87px"><span class="o" style="width:11.58px"><span class="i d">49</span></span></div>
<div class="c a" style="top:951.55px"><span class="o" style="width:11.58px"><span class="i d">50</span></span></div><div class="c b" style="top:951.55px"><span class="o" style="width:11.58px"><span class="i d">31</span></span></div><div class="c t" style="top:951.55px">スターキッカーズ</div><div class="c n" style="top:951.55px"><span class="o" style="width:11.58px"><span class="i d">50</span></span></div>
<div class="c a" style="top:970.23px"><span class="o" style="width:11.58px"><span class="i d">51</span></span></div><div class="c b" style="top:970.23px"><span class="o" style="width:11.58px"><span class="i d">42</span></span></div><div class="c t" style="top:970.23px"><span class="o" style="width:12.70px"><span class="i" style="transform:scaleX(0.732)">FC</span></span>ウィンズ</div><div class="c n" style="top:970.23px"><span class="o" style="width:11.58px"><span class="i d">51</span></span></div>
<div class="c a" style="top:988.90px"><span class="o" style="width:11.58px"><span class="i d">52</span></span></div><div class="c b" style="top:988.90px"><span class="o" style="width:5.79px"><span class="i d">2</span></span></div><div class="c s" style="top:988.90px"><span class="w">第<span class="o" style="width:5.79px"><span class="i d">2</span></span>シード</span></div><div class="c t" style="top:988.90px"><span class="o" style="width:24.20px"><span class="i" style="transform:scaleX(0.817)">#N/A</span></span></div><div class="c n" style="top:988.90px"><span class="o" style="width:11.58px"><span class="i d">52</span></span></div>
</body></html>
